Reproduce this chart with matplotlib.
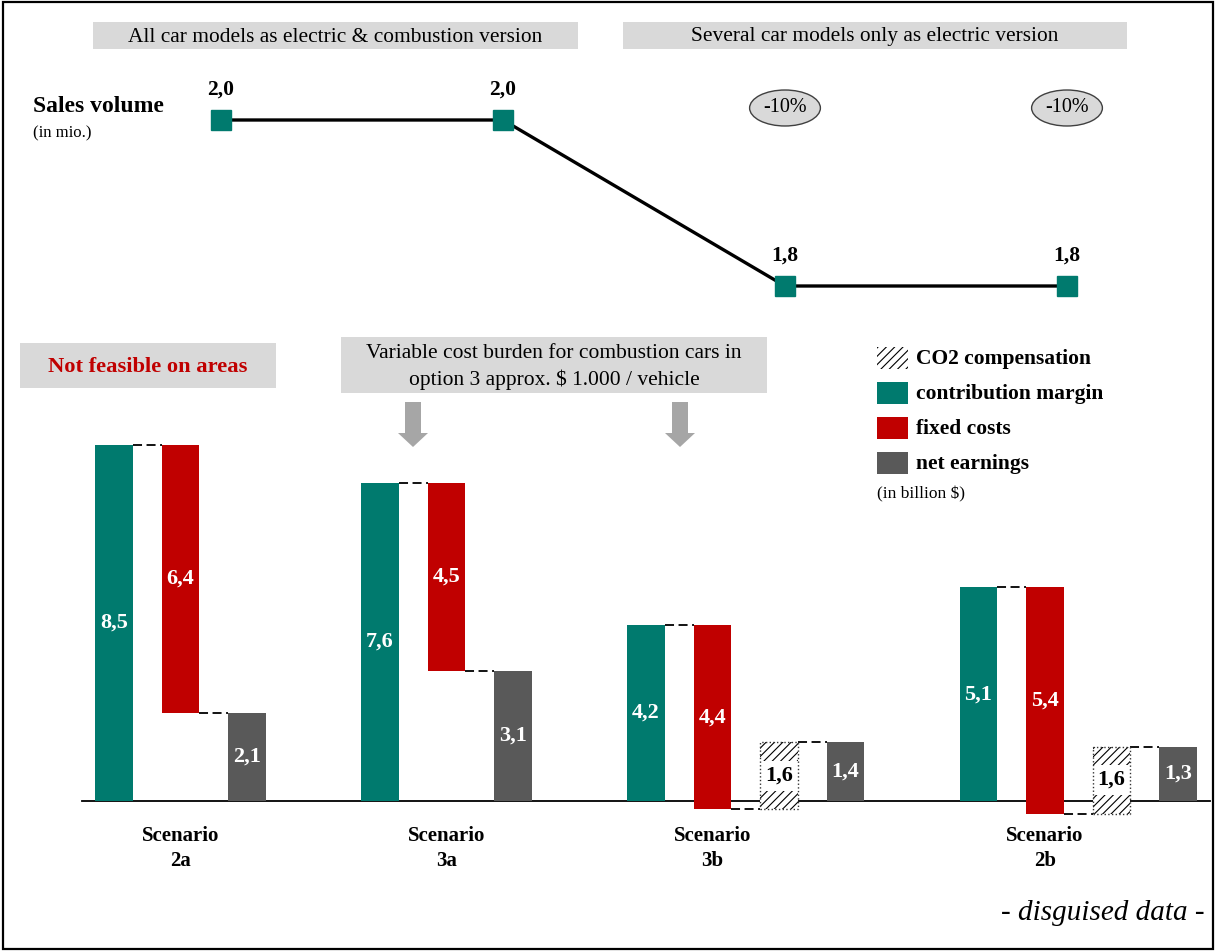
import matplotlib
matplotlib.use('Agg')
import matplotlib.pyplot as plt
from matplotlib.patches import Rectangle, Polygon
from matplotlib.transforms import blended_transform_factory

plt.rcParams['font.family'] = ['Liberation Serif', 'DejaVu Serif']
plt.rcParams['hatch.linewidth'] = 0.8

# ---- data -------------------------------------------------------------
scenarios = ['2a', '3a', '3b', '2b']
sales_volume = [2.0, 2.0, 1.8, 1.8]            # in mio.
contribution_margin = [8.5, 7.6, 4.2, 5.1]     # in billion $
fixed_costs = [6.4, 4.5, 4.4, 5.4]
co2_compensation = [0.0, 0.0, 1.6, 1.6]
net_earnings = [2.1, 3.1, 1.4, 1.3]

legend_labels = ['CO2 compensation', 'contribution margin', 'fixed costs', 'net earnings']
headers = ['All car models as electric & combustion version',
           'Several car models only as electric version']
note_left = 'Not feasible on areas'
note_mid = 'Variable cost burden for combustion cars in\noption 3 approx. $ 1.000 / vehicle'

TEAL = '#007A6E'
RED = '#C00000'
GRAY = '#595959'
BOX = '#D9D9D9'
ARROW = '#A6A6A6'

W, H = 1216, 951
fig = plt.figure(figsize=(W / 100, H / 100), dpi=100)


def fx(x):
    return x / W


def fy(y):
    return 1 - y / H


def fmt(v):
    return f'{v:.1f}'.replace('.', ',')


def box(x0, y0, x1, y1, color=BOX):
    fig.patches.append(Rectangle((fx(x0), fy(y1)), fx(x1) - fx(x0), fy(y0) - fy(y1),
                                 transform=fig.transFigure, facecolor=color,
                                 edgecolor='none', zorder=0))


# ---- frame ------------------------------------------------------------
fig.patches.append(Rectangle((fx(3), fy(949)), fx(1213) - fx(3), fy(2) - fy(949),
                             transform=fig.transFigure, fill=False,
                             edgecolor='black', linewidth=1.6, zorder=10))

# ---- header boxes -----------------------------------------------------
box(93, 22, 578, 49)
fig.text(fx(335), fy(37), headers[0], ha='center', va='center', fontsize=15.4)
box(623, 22, 1127, 49)
fig.text(fx(875), fy(37), headers[1], ha='center', va='center', fontsize=15.4)

# ---- sales volume line ------------------------------------------------
ax_top = fig.add_axes([0, fy(320), 1, 260 / H])
ax_top.set_xlim(-221 / 282, (W - 221) / 282)
ax_top.set_ylim(2.0 - (320 - 120) / 830, 2.0 + 60 / 830)
ax_top.axis('off')
xs = list(range(len(sales_volume)))
ax_top.plot(xs, sales_volume, color='black', linewidth=2.4, zorder=2)
ax_top.plot(xs, sales_volume, linestyle='none', marker='s', markersize=14,
            markerfacecolor=TEAL, markeredgecolor=TEAL, zorder=3)
for i, v in enumerate(sales_volume):
    ax_top.annotate(fmt(v), xy=(i, v), xytext=(0, 22), textcoords='offset points',
                    ha='center', va='center', fontsize=15.5, fontweight='bold')
    change = (v - sales_volume[0]) / sales_volume[0] * 100
    if round(change) != 0:
        tr = blended_transform_factory(ax_top.transData, fig.transFigure)
        ax_top.text(i, fy(108), f'{change:.0f}%', transform=tr, ha='center', va='center',
                    fontsize=14.5,
                    bbox=dict(boxstyle='ellipse,pad=0.16', facecolor=BOX,
                              edgecolor='#404040', linewidth=1.0))

fig.text(fx(33), fy(107), 'Sales volume', ha='left', va='center',
         fontsize=17, fontweight='bold')
fig.text(fx(33), fy(133), '(in mio.)', ha='left', va='center', fontsize=12)

# ---- notes and arrows -------------------------------------------------
box(20, 343, 276, 388)
fig.text(fx(148), fy(367), note_left, ha='center', va='center', fontsize=16.2,
         fontweight='bold', color=RED)
box(341, 337, 767, 393)
fig.text(fx(554), fy(367), note_mid, ha='center', va='center', fontsize=15.5,
         linespacing=1.45)

for cx in (413, 680):
    pts = [(cx - 8, 402), (cx + 8, 402), (cx + 8, 433), (cx + 15, 433),
           (cx, 447), (cx - 15, 433), (cx - 8, 433)]
    fig.patches.append(Polygon([(fx(a), fy(b)) for a, b in pts], closed=True,
                               transform=fig.transFigure, facecolor=ARROW,
                               edgecolor='none'))

# ---- legend -----------------------------------------------------------
legend_styles = [dict(facecolor='white', edgecolor='black', hatch='////', linewidth=0),
                 dict(facecolor=TEAL, edgecolor='none'),
                 dict(facecolor=RED, edgecolor='none'),
                 dict(facecolor=GRAY, edgecolor='none')]
for k, (lab, st) in enumerate(zip(legend_labels, legend_styles)):
    yc = 358 + 35 * k
    fig.patches.append(Rectangle((fx(877), fy(yc + 11)), fx(31), 22 / H,
                                 transform=fig.transFigure, **st))
    fig.text(fx(916), fy(yc + 1), lab, ha='left', va='center', fontsize=15.5,
             fontweight='bold')
fig.text(fx(877), fy(494), '(in billion $)', ha='left', va='center', fontsize=12.5)

# ---- waterfall bars ---------------------------------------------------
ax = fig.add_axes([0, fy(851), 1, 420 / H])
slot_px, slot0_px = 66.5, 114
ax.set_xlim(-slot0_px / slot_px, (W - slot0_px) / slot_px)
ax.set_ylim(-50 / 41.9, 370 / 41.9)
ax.axis('off')

bw = 0.57
dash = dict(color='black', linewidth=1.3, linestyle=(0, (5, 2.5)), zorder=3)
label_tr = blended_transform_factory(ax.transData, fig.transFigure)

start = 0
last_slot = 0
for k, name in enumerate(scenarios):
    cm, fc, c2, ne = (contribution_margin[k], fixed_costs[k],
                      co2_compensation[k], net_earnings[k])
    x_cm, x_fc = start, start + 1
    ax.bar(x_cm, cm, width=bw, color=TEAL, zorder=2)
    ax.text(x_cm, cm / 2, fmt(cm), ha='center', va='center', color='white',
            fontsize=16, fontweight='bold', zorder=5)
    ax.bar(x_fc, fc, bottom=cm - fc, width=bw, color=RED, zorder=2)
    ax.text(x_fc, cm - fc / 2, fmt(fc), ha='center', va='center', color='white',
            fontsize=16, fontweight='bold', zorder=5)
    ax.plot([x_cm + bw / 2, x_fc - bw / 2], [cm, cm], **dash)
    level = cm - fc
    prev = x_fc
    if c2 > 0:
        x_c2 = start + 2
        ax.bar(x_c2, c2, bottom=level, width=bw, facecolor='white', edgecolor='black',
               hatch='////', linewidth=0, zorder=2)
        ax.text(x_c2, level + c2 / 2, fmt(c2), ha='center', va='center', color='black',
                fontsize=16, fontweight='bold', zorder=5,
                bbox=dict(boxstyle='square,pad=0.22', facecolor='white',
                          edgecolor='none'))
        ax.bar(x_c2, c2, bottom=level, width=bw, fill=False, edgecolor='#333333',
               linestyle=':', linewidth=1.0, zorder=6)
        ax.plot([prev + bw / 2, x_c2 - bw / 2], [level, level], **dash)
        level += c2
        prev = x_c2
    x_ne = prev + 1
    ax.bar(x_ne, ne, width=bw, color=GRAY, zorder=2)
    ax.text(x_ne, ne / 2, fmt(ne), ha='center', va='center', color='white',
            fontsize=16, fontweight='bold', zorder=5)
    ax.plot([prev + bw / 2, x_ne - bw / 2], [level, level], **dash)
    ax.text(x_fc, fy(826), f'Scenario\n{name}', transform=label_tr, ha='center',
            va='top', fontsize=15, fontweight='bold', linespacing=1.35)
    last_slot = x_ne
    start = x_ne + 2

ax.plot([-0.48, last_slot + 0.48], [0, 0], color='black', linewidth=1.3, zorder=1)

fig.text(fx(1205), fy(913), '- disguised data -', ha='right', va='center',
         fontsize=21, fontstyle='italic')

fig.savefig('out.png', dpi=100)
